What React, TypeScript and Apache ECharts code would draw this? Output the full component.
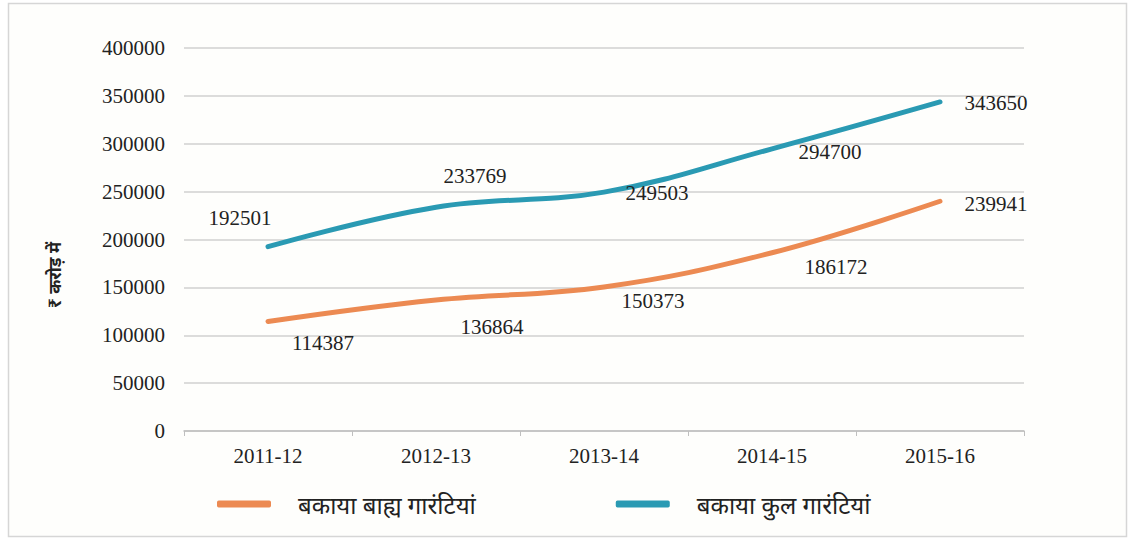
import React, { useEffect, useRef } from "react";
import * as echarts from "echarts";

const categories = ["2011-12", "2012-13", "2013-14", "2014-15", "2015-16"];
const externalGuarantees = [114387, 136864, 150373, 186172, 239941];
const totalGuarantees = [192501, 233769, 249503, 294700, 343650];
const seriesNames = ["बकाया बाह्य गारंटियां", "बकाया कुल गारंटियां"];
const yAxisName = "₹ करोड़ में";

const externalLabelOffsets = [[55, 22], [56, 27], [49, 14], [64, 14], [56, 3]];
const totalLabelOffsets = [[-28, -29], [39, -31], [53, 1], [58, 3], [56, 1]];

const SERIF = "'Liberation Serif', 'Times New Roman', serif";
const FS = 21;

export default function App() {
  const ref = useRef<HTMLDivElement>(null);
  useEffect(() => {
    if (!ref.current) return;
    const chart = echarts.init(ref.current, undefined, { renderer: "svg" });
    const mk = (vals: number[], offs: number[][]) =>
      vals.map((v, i) => ({
        value: v,
        label: { offset: offs[i] },
      }));
    chart.setOption({
      animation: false,
      backgroundColor: "#ffffff",
      graphic: [
        {
          type: "rect",
          shape: { x: 8.5, y: 3.5, width: 1118, height: 533 },
          style: { fill: "#fefefc", stroke: "#d6d6d6", lineWidth: 1.5 },
          z: -10,
          silent: true,
        },
        {
          type: "text",
          x: 54,
          y: 275,
          rotation: Math.PI / 2,
          style: {
            text: yAxisName,
            fontSize: 17,
            fontWeight: "bold",
            fill: "#222",
            fontFamily: "'Noto Sans', sans-serif",
            align: "center",
            verticalAlign: "middle",
          },
          silent: true,
        },
      ],
      grid: { left: 184, right: 111, top: 48, bottom: 109, containLabel: false },
      legend: {
        bottom: 19,
        left: 212,
        itemWidth: 54,
        itemHeight: 7,
        itemGap: 140,
        icon: "roundRect",
        textStyle: { fontSize: 24, color: "#222", fontFamily: "'Noto Sans', sans-serif", padding: [0, 0, 0, 22] },
        data: seriesNames,
      },
      xAxis: {
        type: "category",
        data: categories,
        boundaryGap: true,
        axisLine: { lineStyle: { color: "#bfbfbf", width: 1.5 } },
        axisTick: { show: true, length: 5, lineStyle: { color: "#bfbfbf" } },
        axisLabel: { fontFamily: SERIF, fontSize: FS, color: "#222", margin: 14 },
      },
      yAxis: {
        type: "value",
        min: 0,
        max: 400000,
        interval: 50000,
        axisLine: { show: false },
        axisTick: { show: false },
        axisLabel: {
          fontFamily: SERIF,
          fontSize: FS,
          color: "#222",
          margin: 19,
          formatter: (v: number) => String(v),
        },
        splitLine: { lineStyle: { color: "#d0d0d0", width: 1.5 } },
      },
      series: [
        {
          name: seriesNames[0],
          type: "line",
          smooth: 0.4,
          data: mk(externalGuarantees, externalLabelOffsets),
          symbol: "circle",
          symbolSize: 1,
          color: "#ec8a52",
          lineStyle: { width: 5, color: "#ec8a52", cap: "round" },
          label: { show: true, position: "inside", fontFamily: SERIF, fontSize: FS, color: "#222" },
        },
        {
          name: seriesNames[1],
          type: "line",
          smooth: 0.4,
          data: mk(totalGuarantees, totalLabelOffsets),
          symbol: "circle",
          symbolSize: 1,
          color: "#2a9ab3",
          lineStyle: { width: 5, color: "#2a9ab3", cap: "round" },
          label: { show: true, position: "inside", fontFamily: SERIF, fontSize: FS, color: "#222" },
        },
      ],
    });
    return () => chart.dispose();
  }, []);
  return (
    <div
      ref={ref}
      style={{ position: "absolute", left: 0, top: 0, width: 1135, height: 540 }}
    />
  );
}
